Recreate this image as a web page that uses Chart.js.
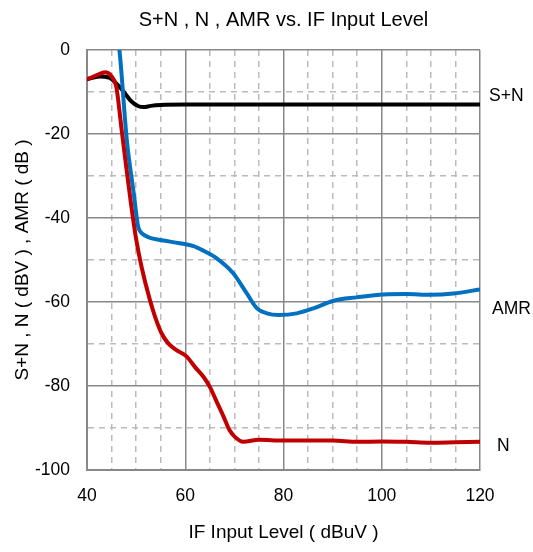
<!DOCTYPE html>
<html>
<head>
    <title>S+N , N , AMR vs. IF Input Level</title>
    <script src="https://cdn.jsdelivr.net/npm/chart.js@4.4.0/dist/chart.umd.min.js"></script>
    <style>
        body { margin: 0; background: #fff; }
        #wrap { width: 533px; height: 552px; }
    </style>
</head>
<body>
<div id="wrap"><canvas id="chart"></canvas></div>
<script>
    // S+N curve (dBV)
    const snX = [40, 42.5, 44.5, 46, 47.5, 49, 50.5, 51.5, 53, 55, 60, 80, 100, 120];
    const snY = [-7, -6.3, -6.6, -8, -10, -12.2, -13.4, -13.6, -13.3, -13.1, -13, -13, -13, -13];

    // N curve (dBV)
    const nX = [40, 42, 43.7, 45, 46, 47, 48, 49, 50, 51.1, 52.8, 54, 55.2, 56.5, 58, 60.3, 62, 63.7, 65, 66.5, 67.8, 69, 70, 71.8, 75, 80, 90, 95, 100, 105, 110, 115, 120];
    const nY = [-7, -6, -5.3, -6.3, -9, -18.5, -28, -37, -45, -51.6, -59.5, -64, -67.5, -69.8, -71.3, -73, -75.5, -77.8, -80.2, -84, -87.3, -90.5, -92, -93.3, -92.8, -93, -93, -93.3, -93.2, -93.3, -93.5, -93.4, -93.3];

    // AMR curve (dB)
    const amrX = [46.2, 46.6, 48.1, 49.5, 50.4, 50.9, 52, 53, 55.2, 58.9, 61.7, 63.7, 66.4, 69.8, 72.5, 74.6, 76.6, 79, 82.7, 86.1, 90.2, 94.9, 100.4, 105.1, 109.9, 114.6, 120];
    const amrY = [3, 0, -21.4, -34, -42, -43.3, -44.3, -44.8, -45.3, -46, -46.7, -47.8, -49.6, -53.2, -57.9, -61.5, -62.7, -63.1, -62.7, -61.5, -59.7, -58.9, -58.2, -58.1, -58.3, -58, -57];

    const seriesNames = ['S+N', 'N', 'AMR'];

    function pts(xs, ys) {
        return xs.map((x, i) => ({ x: x, y: ys[i] }));
    }

    const font = '"Liberation Sans", Arial, sans-serif';

    // text labels at the right end of each curve
    const endLabels = {
        id: 'endLabels',
        afterDraw(chart) {
            const ctx = chart.ctx;
            const area = chart.chartArea;
            const ys = chart.scales.y;
            ctx.save();
            ctx.fillStyle = '#000';
            ctx.font = '17.5px ' + font;
            ctx.textBaseline = 'middle';
            ctx.textAlign = 'left';
            ctx.fillText(seriesNames[0], area.right + 9, ys.getPixelForValue(-11));
            ctx.fillText(seriesNames[2], area.right + 12, ys.getPixelForValue(-61.8));
            ctx.fillText(seriesNames[1], area.right + 17, ys.getPixelForValue(-94.3));
            ctx.restore();
        }
    };

    const majorColor = c => (c.tick && c.tick.value % 20 === 0 ? '#888888' : '#bbbbbb');
    const majorDash = c => (c.tick && c.tick.value % 20 === 0 ? [] : [6, 5]);

    new Chart(document.getElementById('chart'), {
        type: 'line',
        data: {
            datasets: [
                { label: seriesNames[1], data: pts(nX, nY), borderColor: '#C00000' },
                { label: seriesNames[2], data: pts(amrX, amrY), borderColor: '#0070C0' },
                { label: seriesNames[0], data: pts(snX, snY), borderColor: '#000000' }
            ]
        },
        options: {
            responsive: true,
            maintainAspectRatio: false,
            animation: false,
            elements: {
                point: { radius: 0 },
                line: { borderWidth: 4, cubicInterpolationMode: 'monotone' }
            },
            layout: { padding: { left: 0, right: 53, top: 0, bottom: 0 } },
            plugins: {
                legend: { display: false },
                tooltip: { enabled: false },
                title: {
                    display: true,
                    fullSize: false,
                    text: 'S+N , N , AMR vs. IF Input Level',
                    color: '#000',
                    font: { family: font, size: 20, weight: 'normal' },
                    padding: { top: 8, bottom: 18 }
                }
            },
            scales: {
                x: {
                    type: 'linear',
                    min: 40,
                    max: 120,
                    afterFit: s => { s.height = 82; },
                    ticks: {
                        stepSize: 5,
                        autoSkip: false,
                        maxRotation: 0,
                        color: '#000',
                        padding: 16,
                        font: { family: font, size: 17.5 },
                        callback: v => (v % 20 === 0 ? v : '')
                    },
                    grid: { drawTicks: false, lineWidth: 1.5, color: majorColor },
                    border: { display: true, color: '#888888', width: 2, dash: majorDash },
                    title: {
                        display: true,
                        text: 'IF Input Level ( dBuV )',
                        color: '#000',
                        font: { family: font, size: 19 },
                        padding: { top: 0, bottom: 8 }
                    }
                },
                y: {
                    type: 'linear',
                    min: -100,
                    max: 0,
                    afterFit: s => { s.width = 87; },
                    ticks: {
                        stepSize: 10,
                        autoSkip: false,
                        color: '#000',
                        padding: 17,
                        font: { family: font, size: 17.5 },
                        callback: v => (v % 20 === 0 ? v : '')
                    },
                    grid: { drawTicks: false, lineWidth: 1.5, color: majorColor },
                    border: { display: true, color: '#888888', width: 2, dash: majorDash },
                    title: {
                        display: true,
                        text: 'S+N , N ( dBV ) , AMR ( dB )',
                        color: '#000',
                        font: { family: font, size: 19 },
                        padding: { top: 11, bottom: 0 }
                    }
                }
            }
        },
        plugins: [endLabels]
    });
</script>
</body>
</html>
